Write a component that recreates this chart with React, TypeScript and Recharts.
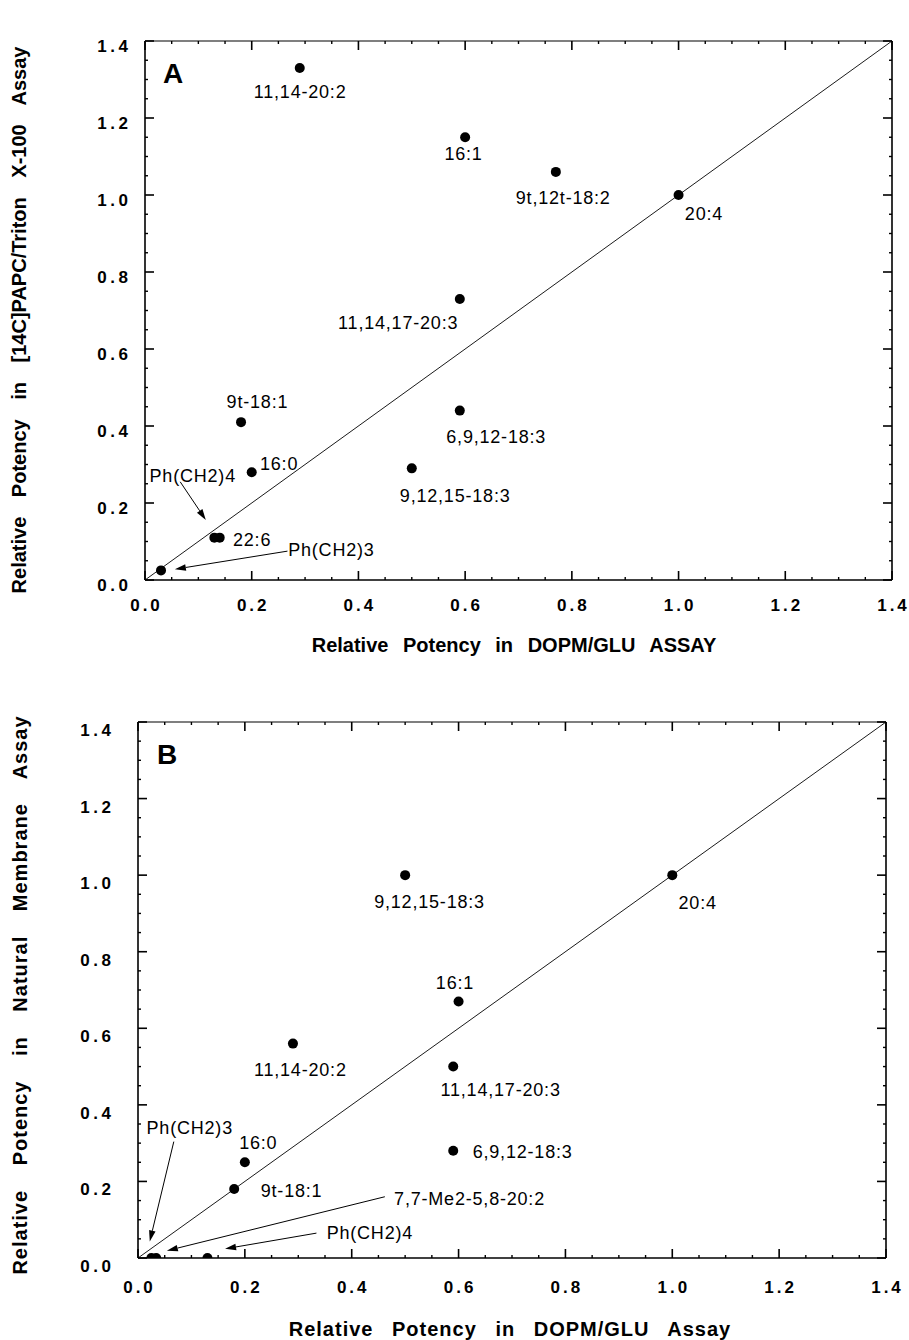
import React from 'react';
import { ScatterChart, Scatter, XAxis, YAxis, ReferenceLine } from 'recharts';

// ---------- Data: panel A ----------
const namesA = ['11,14-20:2', '16:1', '9t,12t-18:2', '20:4', '11,14,17-20:3', '9t-18:1', '6,9,12-18:3', '16:0', '9,12,15-18:3', 'Ph(CH2)4', '22:6', 'Ph(CH2)3'];
const xA = [0.29, 0.60, 0.77, 1.00, 0.59, 0.18, 0.59, 0.20, 0.50, 0.13, 0.14, 0.03];
const yA = [1.33, 1.15, 1.06, 1.00, 0.73, 0.41, 0.44, 0.28, 0.29, 0.11, 0.11, 0.025];

// ---------- Data: panel B ----------
const namesB = ['9,12,15-18:3', '20:4', '16:1', '11,14-20:2', '11,14,17-20:3', '6,9,12-18:3', '16:0', '9t-18:1', 'Ph(CH2)3', '7,7-Me2-5,8-20:2', 'Ph(CH2)4'];
const xB = [0.50, 1.00, 0.60, 0.29, 0.59, 0.59, 0.20, 0.18, 0.025, 0.034, 0.13];
const yB = [1.00, 1.00, 0.67, 0.56, 0.50, 0.28, 0.25, 0.18, 0, 0, 0];

// arrows (data coordinates): [fromX, fromY, toX, toY]
const arrowsA = [
  [0.066, 0.255, 0.114, 0.156],
  [0.267, 0.075, 0.056, 0.028],
];
const arrowsB = [
  [0.067, 0.304, 0.022, 0.043],
  [0.462, 0.160, 0.054, 0.019],
  [0.334, 0.065, 0.163, 0.024],
];

// tick values
const majorTicks = [0, 0.2, 0.4, 0.6, 0.8, 1.0, 1.2, 1.4];
const allTicks = Array.from({ length: 29 }, (_, k) => Number((k * 0.05).toFixed(2)));

// ---------- Styles (label placement offsets, in px) ----------
const labelOffsetsA: [number, number][] = [
  [0, 29], [-2, 22], [7, 31], [25, 24], [-62, 29], [16, -15], [36, 31], [27, -3], [43, 33], [-22, -57], [32, 7], [170, -15],
];
const labelOffsetsB: [number, number][] = [
  [24, 32], [25, 33], [-4, -13], [7, 31], [47, 28], [69, 6], [13, -14], [57, 7], [38, -125], [313, -54], [162, -20],
];

const FONT = '"Liberation Sans", Arial, Helvetica, sans-serif';
const isMajor = (v: number) => Math.abs(v * 5 - Math.round(v * 5)) < 1e-6;

type TickCfg = { labelOffset: number; labelDy: number; ls: number };

function makeTick(side: 'bottom' | 'top' | 'left' | 'right', cfg?: TickCfg) {
  return (props: any) => {
    const { x, y, payload } = props;
    const v = payload.value;
    const major = isMajor(v);
    const len = major ? 9 : 3;
    let line: React.ReactNode = null;
    let label: React.ReactNode = null;
    if (side === 'bottom') {
      line = <line x1={x} y1={y} x2={x} y2={y - len} stroke="#000" strokeWidth={major ? 1.6 : 1.4} />;
      if (major && cfg && majorTicks.some((m) => Math.abs(m - v) < 1e-6)) {
        label = (
          <text x={x + cfg.ls / 2} y={y + cfg.labelOffset} textAnchor="middle" fontFamily={FONT} fontWeight="bold" fontSize={17} letterSpacing={cfg.ls} fill="#000">
            {v.toFixed(1)}
          </text>
        );
      }
    } else if (side === 'top') {
      line = <line x1={x} y1={y} x2={x} y2={y + len} stroke="#000" strokeWidth={major ? 1.6 : 1.4} />;
    } else if (side === 'left') {
      line = <line x1={x} y1={y} x2={x + len} y2={y} stroke="#000" strokeWidth={major ? 1.6 : 1.4} />;
      if (major && cfg) {
        label = (
          <text x={x - cfg.labelOffset + cfg.ls} y={y + cfg.labelDy} textAnchor="end" fontFamily={FONT} fontWeight="bold" fontSize={17} letterSpacing={cfg.ls} fill="#000">
            {v.toFixed(1)}
          </text>
        );
      }
    } else {
      line = <line x1={x} y1={y} x2={x - len} y2={y} stroke="#000" strokeWidth={major ? 1.6 : 1.4} />;
    }
    return (
      <g>
        {line}
        {label}
      </g>
    );
  };
}

const ArrowShape = (p: any) => {
  const x1 = Number(p.x1), y1 = Number(p.y1), x2 = Number(p.x2), y2 = Number(p.y2);
  const ang = Math.atan2(y2 - y1, x2 - x1);
  const L = 11, W = 3.3;
  const bx = x2 - L * Math.cos(ang), by = y2 - L * Math.sin(ang);
  const px = -Math.sin(ang) * W, py = Math.cos(ang) * W;
  return (
    <g>
      <line x1={x1} y1={y1} x2={bx} y2={by} stroke="#000" strokeWidth={1} />
      <polygon points={`${x2},${y2} ${bx + px},${by + py} ${bx - px},${by - py}`} fill="#000" />
    </g>
  );
};

function makePoint(names: string[], offsets: [number, number][]) {
  return (p: any) => {
    const { cx, cy, payload } = p;
    const i = names.indexOf(payload.name);
    const [dx, dy] = offsets[i] || [0, 0];
    return (
      <g>
        <circle cx={cx} cy={cy} r={5} fill="#000" />
        <text x={cx + dx + 0.4} y={cy + dy + 1} textAnchor="middle" fontFamily={FONT} fontSize={18} letterSpacing={0.8} fill="#000">
          {payload.name}
        </text>
      </g>
    );
  };
}

type PanelProps = {
  data: { name: string; x: number; y: number }[];
  names: string[];
  offsets: [number, number][];
  arrows: number[][];
  height: number;
  margin: { top: number; right: number; bottom: number; left: number };
  xCfg: TickCfg;
  yCfg: TickCfg;
};

function Panel({ data, names, offsets, arrows, height, margin, xCfg, yCfg }: PanelProps) {
  return (
    <ScatterChart width={909} height={height} margin={margin}>
      <XAxis xAxisId={0} type="number" dataKey="x" domain={[0, 1.4]} ticks={allTicks} interval={0} height={1} tickSize={0} tickMargin={0}
        axisLine={{ stroke: '#000', strokeWidth: 1.6 }} tickLine={false} tick={makeTick('bottom', xCfg)} allowDataOverflow />
      <XAxis xAxisId="top" orientation="top" type="number" dataKey="x" domain={[0, 1.4]} ticks={allTicks} interval={0} height={1} tickSize={0} tickMargin={0}
        axisLine={{ stroke: '#000', strokeWidth: 1.2 }} tickLine={false} tick={makeTick('top')} allowDataOverflow />
      <YAxis yAxisId={0} type="number" dataKey="y" domain={[0, 1.4]} ticks={allTicks} interval={0} width={1} tickSize={0} tickMargin={0}
        axisLine={{ stroke: '#000', strokeWidth: 1.6 }} tickLine={false} tick={makeTick('left', yCfg)} allowDataOverflow />
      <YAxis yAxisId="right" orientation="right" type="number" dataKey="y" domain={[0, 1.4]} ticks={allTicks} interval={0} width={1} tickSize={0} tickMargin={0}
        axisLine={{ stroke: '#000', strokeWidth: 1.6 }} tickLine={false} tick={makeTick('right')} allowDataOverflow />
      <ReferenceLine xAxisId={0} yAxisId={0} segment={[{ x: 0, y: 0 }, { x: 1.4, y: 1.4 }]} stroke="#000" strokeWidth={0.9} ifOverflow="visible" />
      {arrows.map((a, i) => (
        <ReferenceLine key={i} xAxisId={0} yAxisId={0} segment={[{ x: a[0], y: a[1] }, { x: a[2], y: a[3] }]} ifOverflow="visible" shape={ArrowShape} />
      ))}
      <Scatter xAxisId={0} yAxisId={0} data={data} fill="#000" isAnimationActive={false} shape={makePoint(names, offsets)} />
    </ScatterChart>
  );
}

const dataA = namesA.map((n, i) => ({ name: n, x: xA[i], y: yA[i] }));
const dataB = namesB.map((n, i) => ({ name: n, x: xB[i], y: yB[i] }));

export default function App() {
  return (
    <div style={{ position: 'absolute', left: 0, top: 0, width: 909, height: 1340, background: '#fff', overflow: 'hidden' }}>
      <div style={{ position: 'absolute', left: 0, top: 0 }}>
        <Panel data={dataA} names={namesA} offsets={labelOffsetsA} arrows={arrowsA} height={680}
          margin={{ top: 40, right: 16, bottom: 99, left: 144 }}
          xCfg={{ labelOffset: 31, labelDy: 0, ls: 3 }} yCfg={{ labelOffset: 17, labelDy: 11, ls: 3.5 }} />
      </div>
      <div style={{ position: 'absolute', left: 0, top: 680 }}>
        <Panel data={dataB} names={namesB} offsets={labelOffsetsB} arrows={arrowsB} height={660}
          margin={{ top: 41, right: 22, bottom: 81, left: 137 }}
          xCfg={{ labelOffset: 35, labelDy: 0, ls: 3 }} yCfg={{ labelOffset: 27, labelDy: 14, ls: 3.5 }} />
      </div>
      <svg width={909} height={1340} style={{ position: 'absolute', left: 0, top: 0, pointerEvents: 'none' }}>
        <text x={163} y={83} fontFamily={FONT} fontWeight="bold" fontSize={28}>A</text>
        <text x={157} y={764} fontFamily={FONT} fontWeight="bold" fontSize={28}>B</text>
        <text x={514} y={652} textAnchor="middle" fontFamily={FONT} fontWeight="bold" fontSize={20} wordSpacing={9}>
          Relative Potency in DOPM/GLU ASSAY
        </text>
        <text x={510} y={1336} textAnchor="middle" fontFamily={FONT} fontWeight="bold" fontSize={20} letterSpacing={1} wordSpacing={12}>
          Relative Potency in DOPM/GLU Assay
        </text>
        <text transform="translate(26,320) rotate(-90)" textAnchor="middle" fontFamily={FONT} fontWeight="bold" fontSize={20} wordSpacing={14}>
          Relative Potency in [14C]PAPC/Triton X-100 Assay
        </text>
        <text transform="translate(27,995) rotate(-90)" textAnchor="middle" fontFamily={FONT} fontWeight="bold" fontSize={20} letterSpacing={1} wordSpacing={18}>
          Relative Potency in Natural Membrane Assay
        </text>
      </svg>
    </div>
  );
}
